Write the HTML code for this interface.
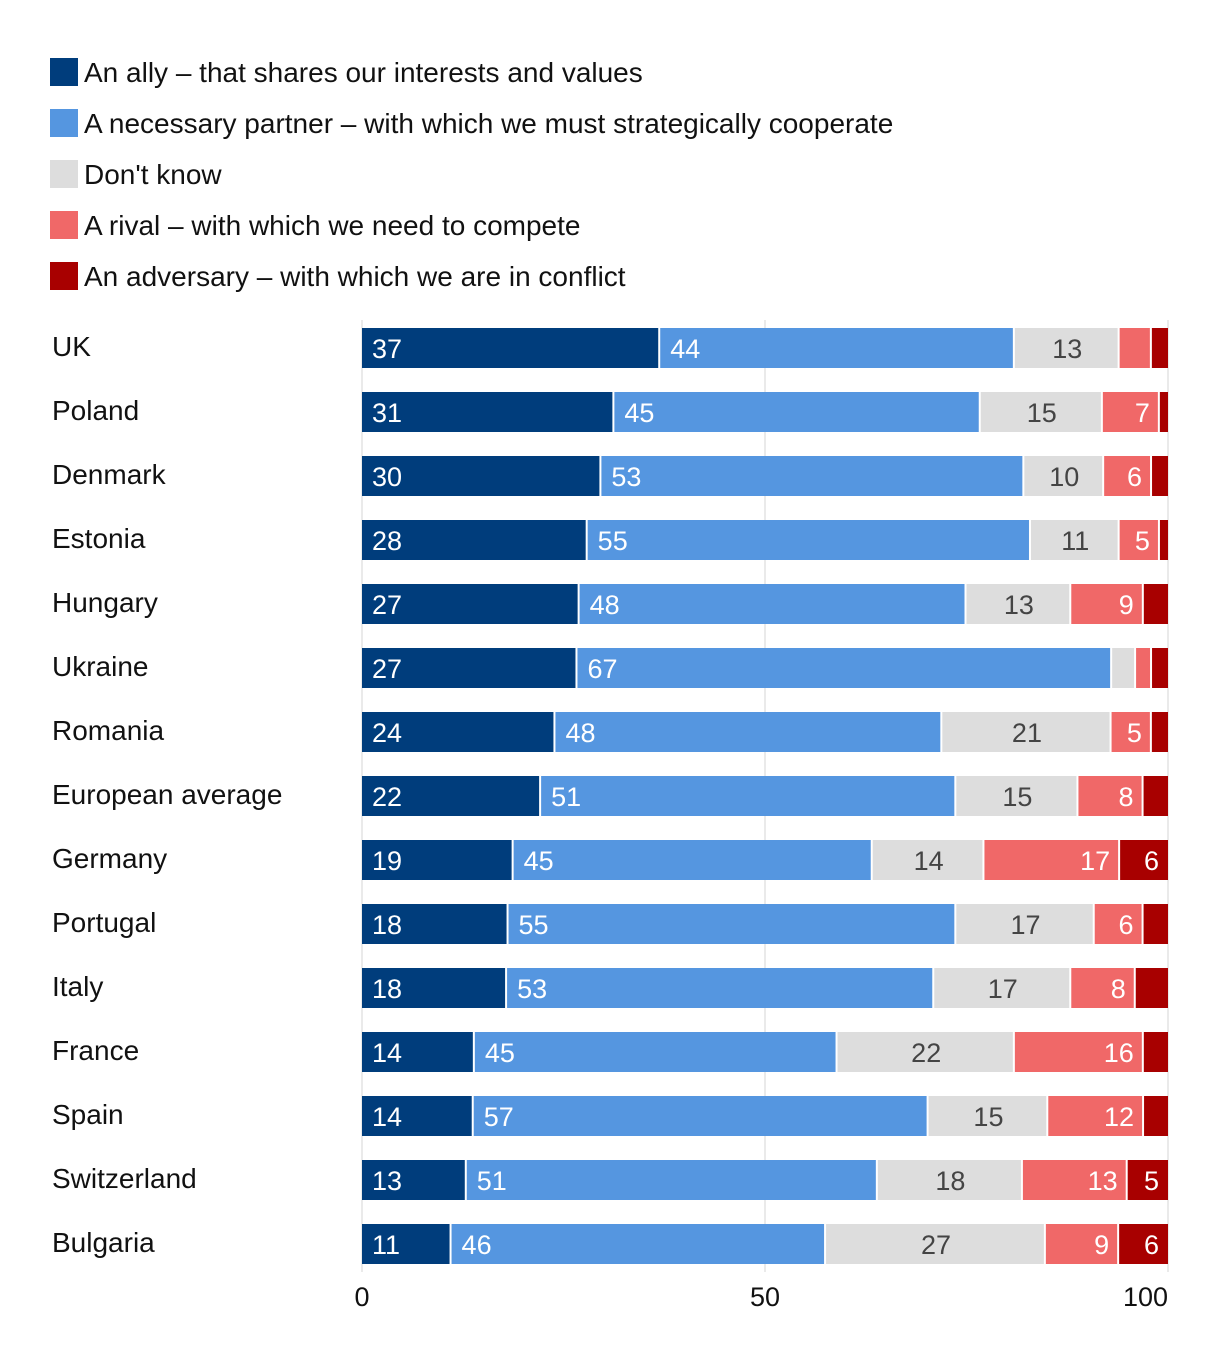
<!DOCTYPE html>
<html><head><meta charset="utf-8">
<style>
html,body{margin:0;padding:0;background:#fff;}
body{width:1220px;height:1358px;overflow:hidden;font-family:"Liberation Sans",sans-serif;}
</style></head>
<body>
<svg id="chart" width="1220" height="1358" xmlns="http://www.w3.org/2000/svg" font-family="Liberation Sans, sans-serif"></svg>
<script>
const categories=["UK","Poland","Denmark","Estonia","Hungary","Ukraine","Romania","European average","Germany","Portugal","Italy","France","Spain","Switzerland","Bulgaria"];
const ally=[37,31,30,28,27,27,24,22,19,18,18,14,14,13,11];
const partner=[44,45,53,55,48,67,48,51,45,55,53,45,57,51,46];
const dontKnow=[13,15,10,11,13,3,21,15,14,17,17,22,15,18,27];
const rival=[4,7,6,5,9,2,5,8,17,6,8,16,12,13,9];
const adversary=[2,1,2,1,3,2,2,3,6,3,4,3,3,5,6];
const xTicks=[0,50,100];
const seriesNames=["An ally – that shares our interests and values","A necessary partner – with which we must strategically cooperate","Don't know","A rival – with which we need to compete","An adversary – with which we are in conflict"];
const colors=["#003d7c","#5596e0","#dddddd","#f06868","#a80000"];
const textColors=["#fff","#fff","#444","#fff","#fff"];
const align=["start","start","middle","end","end"];
const keys=["ally","partner","dont-know","rival","adversary"];

const svg=document.getElementById('chart');
const NS="http://www.w3.org/2000/svg";
const x0=362,x1=1168;
const xs=v=>x0+(x1-x0)*v/100;
const rowY=i=>328+i*64;
const barH=40;
function mk(tag,attrs,parent){const e=document.createElementNS(NS,tag);for(const k in attrs)e.setAttribute(k,attrs[k]);(parent||svg).appendChild(e);return e;}

seriesNames.forEach((n,i)=>{
  const g=mk('g',{});
  
  
  mk('rect',{x:50,y:58+i*51,width:28,height:28,fill:colors[i]},g);
  const t=mk('text',{x:84,y:82+i*51,'font-size':28,fill:'#111'},g);
  t.textContent=n;
});
xTicks.forEach((v,j)=>{
  const l=mk('line',{x1:xs(v),x2:xs(v),y1:320,y2:1272,stroke:'#e3e3e3','stroke-width':1.5});
  
  
  const anch=j==xTicks.length-1?'end':'middle';
  const t=mk('text',{x:xs(v),y:1306,'font-size':27,'text-anchor':anch,fill:'#111'});
  
  
  t.textContent=v;
});
const series=[ally,partner,dontKnow,rival,adversary];
categories.forEach((c,i)=>{
  const y=rowY(i);
  const lab=mk('text',{x:52,y:y+28,'font-size':28,fill:'#111'});
  
  
  lab.textContent=c;
  const total=series.reduce((s,a)=>s+a[i],0);
  let cum=0;
  series.forEach((s,k)=>{
    const v=s[i];
    const a=xs(cum*100/total), b=xs((cum+v)*100/total);
    cum+=v;
    const r=mk('rect',{x:a,y:y,width:Math.max(0,b-a-(k<4?2:0)),height:barH,fill:colors[k]});
    
    
    if(v>=5){
      let tx=align[k]=='start'?a+10:align[k]=='middle'?(a+b)/2:b-10;
      if(k==4) tx=b-9;
      const t=mk('text',{x:tx,y:y+30,'font-size':27,'text-anchor':align[k],fill:textColors[k]});
      
      
      t.textContent=v;
    }
  });
});
</script>
</body></html>
